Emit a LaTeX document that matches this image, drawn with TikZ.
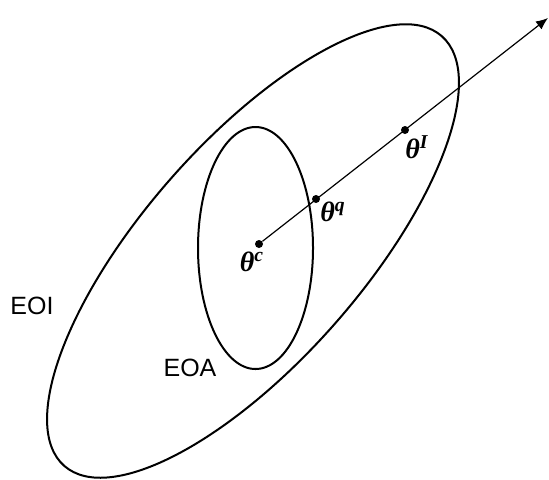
\documentclass[tikz,border=0pt]{standalone}
\usepackage{fontspec}
\setmainfont{Liberation Sans}
\newfontfamily\thetafont{Liberation Serif}
\usetikzlibrary{arrows.meta}

\begin{document}
\begin{tikzpicture}[
  x=0.5pt, y=0.5pt,
  >={Latex[length=6pt,width=5pt]},
  region/.style={draw, line width=1pt},
  dot/.style={circle, fill=black, inner sep=0pt, minimum size=4pt},
  param/.style={font=\fontsize{14}{16}\selectfont\thetafont\bfseries\itshape, inner sep=1pt},
  tag/.style={font=\fontsize{12.5}{14}\selectfont}
]
\useasboundingbox (0,0) rectangle (549,479);

% Ellipsoid centres
\coordinate (eoi) at (253,228);
\coordinate (eoa) at (255.5,231);

% Ellipsoids
\draw[region] (eoi) ellipse[x radius=286, y radius=109.5, rotate=48.7];
\draw[region] (eoa) ellipse[x radius=57.5, y radius=121];

% Points on the ray
\node[dot] (c) at (259,235) {};
\node[dot] (q) at (316,280) {};
\node[dot] (I) at (405,349) {};
\coordinate (tip) at (548,461);

\draw[->, line width=0.6pt] (c) -- (tip);

% Labels
\node[param] (lc) at (252,217) {θ\textsuperscript{c}};
\node[param] (lq) at (333,267) {θ\textsuperscript{q}};
\node[param] (lI) at (417,332) {θ\textsuperscript{I}};
\node[tag] (leoi) at (32,173) {EOI};
\node[tag] (leoa) at (190,111) {EOA};

\end{tikzpicture}
\end{document}
